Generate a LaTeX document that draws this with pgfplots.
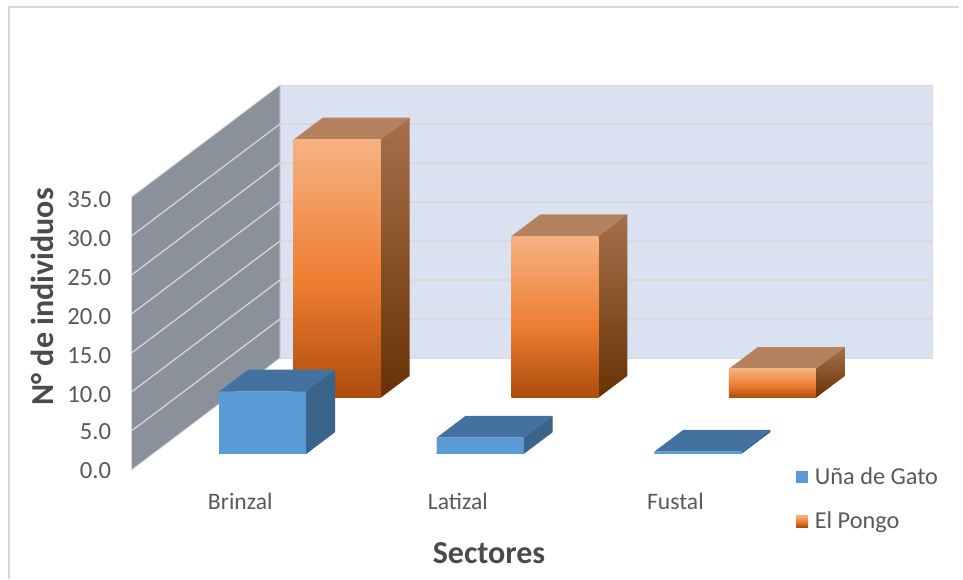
\documentclass[border=0pt]{standalone}
\usepackage{pgfplots}
\pgfplotsset{compat=1.18}
\usepackage{fontspec}
\setmainfont{Carlito}
\definecolor{txt}{RGB}{89,89,89}
\definecolor{txtb}{RGB}{75,75,75}
\definecolor{linec}{RGB}{217,217,217}
\definecolor{backw}{RGB}{218,225,241}
\definecolor{leftw}{RGB}{139,145,155}
\definecolor{bluef}{RGB}{91,155,213}
\definecolor{bluet}{RGB}{68,114,160}
\definecolor{blues}{RGB}{58,100,138}
\definecolor{oranget}{RGB}{181,130,95}
\definecolor{oa}{RGB}{172,76,12}
\definecolor{ob}{RGB}{237,125,49}
\definecolor{oc}{RGB}{247,178,130}
\definecolor{sa}{RGB}{104,50,6}
\definecolor{sb}{RGB}{166,112,76}
\pgfdeclareverticalshading{ofront}{100bp}{color(0bp)=(oa); color(25bp)=(oa); color(47bp)=(ob); color(75bp)=(oc); color(100bp)=(oc)}
\pgfdeclareverticalshading{oside}{100bp}{color(0bp)=(sa); color(25bp)=(sa); color(75bp)=(sb); color(100bp)=(sb)}
% one 3D column: x1 x2 y1 y2 value, front style, side style, top style
\newcommand\column[8]{%
 \addplot3[draw=none,forget plot,#8] coordinates {(#1,#3,#5)(#2,#3,#5)(#2,#4,#5)(#1,#4,#5)(#1,#3,#5)};
 \addplot3[draw=none,forget plot,#7] coordinates {(#2,#3,0)(#2,#4,0)(#2,#4,#5)(#2,#3,#5)(#2,#3,0)};
 \addplot3[draw=none,forget plot,#6] coordinates {(#1,#3,0)(#2,#3,0)(#2,#3,#5)(#1,#3,#5)(#1,#3,0)};
}
\newcommand\orangecol[3]{\column{#1}{#2}{1.29}{1.68}{#3}{shade,shading=ofront}{shade,shading=oside}{fill=oranget}}
\newcommand\bluecol[3]{\column{#1}{#2}{0.286}{0.676}{#3}{fill=bluef}{fill=blues}{fill=bluet}}
\begin{document}
\begin{tikzpicture}[x=0.75pt,y=0.75pt]
\path[use as bounding box] (-131.5,-109) rectangle (831.5,470);
\fill[white] (-131.5,-109) rectangle (831.5,470);
\draw[linec,line width=2.2pt] (-122.5,-109) -- (-122.5,463) -- (827,463);
\begin{axis}[
 at={(0,0)},anchor=origin,
 x={(163.2pt,0pt)},y={(55.69pt,42pt)},z={(0pt,5.85pt)},
 xmin=0,xmax=3,ymin=0,ymax=2,zmin=0,zmax=35,
 clip=false,
 axis line style={draw=none},
 tick style={draw=none},
 grid=none,
 xtick={0.5,1.5,2.5},
 xticklabels={Brinzal,Latizal,Fustal},
 ytick=\empty,
 ztick={0,5,10,15,20,25,30,35},
 /pgf/number format/assume math mode=true,
 /pgf/number format/fixed,
 /pgf/number format/fixed zerofill,
 /pgf/number format/precision=1,
 xticklabel style={font=\fontsize{17.7pt}{20pt}\selectfont,text=txt,yshift=-13.5pt,xshift=4.8pt},
 zticklabel style={font=\fontsize{18.5pt}{21pt}\selectfont,text=txt,xshift=-11.75pt,yshift=4.5pt},
 xlabel={Sectores},
 zlabel={N° de individuos},
 xlabel style={at={(axis cs:1.643,0,-10.64)},anchor=center},
 zlabel style={at={(axis cs:-0.411,0,22.2)},anchor=center},
 label style={font=\bfseries\fontsize{24pt}{28pt}\selectfont,text=txtb},
 legend cell align=left,
 legend style={at={(axis cs:3.035,0,-3.72)},anchor=west,draw=none,fill=none,
   font=\fontsize{18.2pt}{21pt}\selectfont,text=txt,row sep=15pt,
   nodes={inner xsep=5pt}},
]
% back wall and its gridlines
\addplot3[fill=backw,draw=linec,line width=0.7pt,forget plot] coordinates {(0,2,0)(3,2,0)(3,2,35)(0,2,35)(0,2,0)};
\addplot3[linec,line width=0.9pt,forget plot] coordinates {(0,2,5)(3,2,5)};
\addplot3[linec,line width=0.9pt,forget plot] coordinates {(0,2,10)(3,2,10)};
\addplot3[linec,line width=0.9pt,forget plot] coordinates {(0,2,15)(3,2,15)};
\addplot3[linec,line width=0.9pt,forget plot] coordinates {(0,2,20)(3,2,20)};
\addplot3[linec,line width=0.9pt,forget plot] coordinates {(0,2,25)(3,2,25)};
\addplot3[linec,line width=0.9pt,forget plot] coordinates {(0,2,30)(3,2,30)};
% left wall and its gridlines
\addplot3[fill=leftw,draw=linec,line width=0.6pt,forget plot] coordinates {(0,0,0)(0,2,0)(0,2,35)(0,0,35)(0,0,0)};
\addplot3[linec,line width=0.9pt,forget plot] coordinates {(0,0,5)(0,2,5)};
\addplot3[linec,line width=0.9pt,forget plot] coordinates {(0,0,10)(0,2,10)};
\addplot3[linec,line width=0.9pt,forget plot] coordinates {(0,0,15)(0,2,15)};
\addplot3[linec,line width=0.9pt,forget plot] coordinates {(0,0,20)(0,2,20)};
\addplot3[linec,line width=0.9pt,forget plot] coordinates {(0,0,25)(0,2,25)};
\addplot3[linec,line width=0.9pt,forget plot] coordinates {(0,0,30)(0,2,30)};
% El Pongo
\orangecol{0.305}{0.705}{33.1}
\orangecol{1.305}{1.705}{20.7}
\orangecol{2.305}{2.705}{3.7}
% Uña de Gato
\bluecol{0.305}{0.705}{8.0}
\bluecol{1.305}{1.705}{2.1}
\bluecol{2.305}{2.705}{0.3}
\addlegendimage{legend image code/.code={\fill[bluef,draw=none] (0pt,-4.5pt) rectangle (9pt,4.5pt);}}
\addlegendentry{Uña de Gato}
\addlegendimage{legend image code/.code={\path[draw=none,shade,shading=ofront] (0pt,-4.5pt) rectangle (9pt,4.5pt);}}
\addlegendentry{El Pongo}
\end{axis}
\end{tikzpicture}
\end{document}
